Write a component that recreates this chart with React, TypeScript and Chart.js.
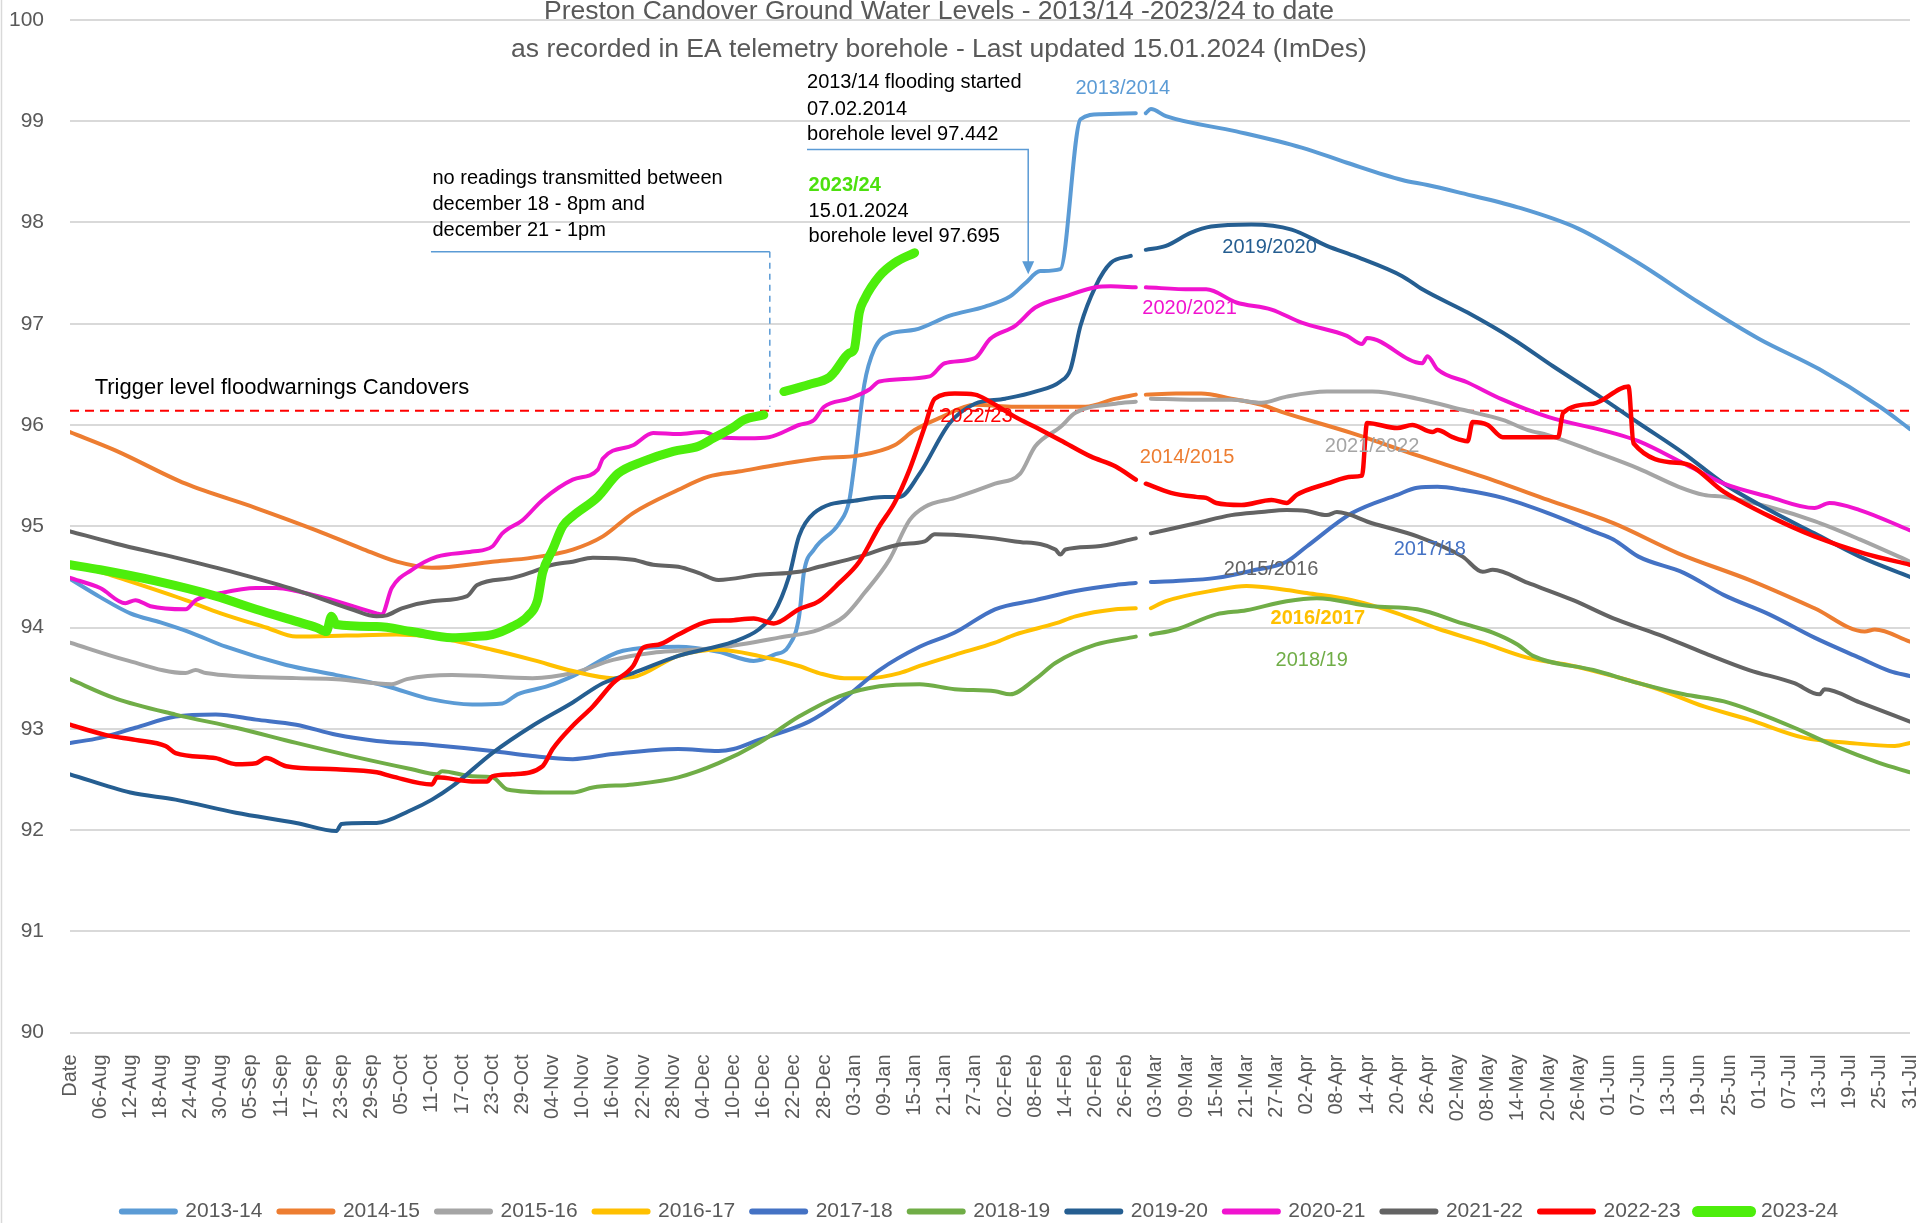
import React, { useEffect, useRef } from "react";
import { Chart, registerables } from "chart.js";

Chart.register(...registerables);

// ---------- tick labels ----------
const X_TICK_LABELS = [
  "Date", "06-Aug", "12-Aug", "18-Aug", "24-Aug", "30-Aug", "05-Sep", "11-Sep", "17-Sep", "23-Sep", "29-Sep",
  "05-Oct", "11-Oct", "17-Oct", "23-Oct", "29-Oct", "04-Nov", "10-Nov", "16-Nov", "22-Nov", "28-Nov",
  "04-Dec", "10-Dec", "16-Dec", "22-Dec", "28-Dec", "03-Jan", "09-Jan", "15-Jan", "21-Jan", "27-Jan",
  "02-Feb", "08-Feb", "14-Feb", "20-Feb", "26-Feb", "03-Mar", "09-Mar", "15-Mar", "21-Mar", "27-Mar",
  "02-Apr", "08-Apr", "14-Apr", "20-Apr", "26-Apr", "02-May", "08-May", "14-May", "20-May", "26-May",
  "01-Jun", "07-Jun", "13-Jun", "19-Jun", "25-Jun", "01-Jul", "07-Jul", "13-Jul", "19-Jul", "25-Jul", "31-Jul",
];
const Y_MIN = 90;
const Y_MAX = 100;
const DAY_MAX = 366;
const TRIGGER_LEVEL = 96.14;

// ---------- series: [day index since "Date", level] ----------
const S2013_14 = [[0,94.48],[6,94.3],[12,94.14],[18,94.05],[24,93.95],[31,93.81],[43,93.63],[53,93.53],[63,93.42],[72,93.29],[80,93.24],[86,93.25],[89,93.34],[95,93.42],[100,93.52],[110,93.77],[121,93.81],[129,93.76],[136,93.67],[140,93.73],[143,93.82],[145,94.1],[146,94.55],[148,94.77],[153,95.03],[155,95.25],[156,95.6],[158,96.4],[160,96.75],[163,96.9],[168,96.94],[175,97.08],[182,97.17],[187,97.27],[190,97.4],[193,97.52],[197,97.54],[201,99.02],[205,99.07],[212,99.08],[213,null],[214,99.08],[215,99.12],[218,99.05],[232,98.9],[245,98.74],[254,98.59],[265,98.42],[270,98.37],[276,98.3],[288,98.15],[300,97.94],[312,97.6],[324,97.21],[336,96.85],[348,96.55],[360,96.18],[366,95.96]];
const S2014_15 = [[0,95.93],[9,95.75],[23,95.42],[37,95.18],[49,94.96],[58,94.78],[65,94.65],[72,94.59],[84,94.65],[92,94.69],[100,94.77],[106,94.9],[112,95.13],[121,95.36],[127,95.49],[133,95.54],[141,95.61],[149,95.67],[157,95.7],[164,95.8],[168,95.95],[173,96.07],[180,96.2],[188,96.18],[196,96.18],[202,96.18],[208,96.26],[212,96.3],[213,null],[214,96.3],[220,96.31],[225,96.31],[231,96.26],[237,96.2],[241,96.13],[255,95.92],[268,95.7],[281,95.49],[294,95.26],[307,95.03],[320,94.73],[334,94.47],[347,94.19],[357,93.96],[359,93.98],[366,93.86]];
const S2015_16 = [[0,93.85],[11,93.68],[23,93.55],[25,93.58],[27,93.55],[45,93.5],[53,93.49],[64,93.44],[67,93.49],[76,93.53],[92,93.5],[100,93.55],[108,93.68],[116,93.75],[121,93.77],[129,93.8],[141,93.9],[149,93.98],[154,94.11],[158,94.34],[163,94.67],[167,95.06],[170,95.19],[176,95.28],[184,95.42],[189,95.52],[192,95.79],[197,95.98],[200,96.12],[208,96.21],[212,96.23],[213,null],[215,96.26],[223,96.25],[231,96.25],[237,96.22],[242,96.28],[250,96.33],[259,96.33],[268,96.26],[277,96.15],[285,96.05],[290,95.95],[294,95.9],[303,95.74],[312,95.57],[320,95.39],[325,95.31],[329,95.29],[338,95.19],[347,95.05],[356,94.87],[366,94.65]];
const S2016_17 = [[0,94.62],[6,94.55],[11,94.47],[23,94.27],[30,94.14],[39,94.0],[45,93.91],[55,93.92],[65,93.93],[73,93.9],[84,93.78],[92,93.68],[100,93.57],[108,93.5],[112,93.51],[121,93.72],[129,93.78],[137,93.72],[145,93.62],[149,93.55],[154,93.5],[159,93.5],[165,93.55],[169,93.62],[176,93.73],[184,93.85],[188,93.93],[196,94.04],[200,94.11],[208,94.18],[212,94.19],[213,null],[215,94.19],[218,94.26],[228,94.37],[234,94.41],[242,94.37],[246,94.34],[255,94.27],[264,94.14],[272,93.99],[281,93.85],[290,93.7],[299,93.62],[307,93.52],[316,93.39],[325,93.22],[334,93.09],[345,92.91],[354,92.86],[363,92.83],[366,92.86]];
const S2017_18 = [[0,92.86],[6,92.91],[13,93.01],[21,93.12],[29,93.14],[37,93.09],[45,93.04],[53,92.94],[61,92.88],[72,92.84],[84,92.78],[92,92.73],[100,92.7],[108,92.75],[121,92.8],[129,92.78],[132,92.8],[137,92.89],[147,93.07],[153,93.26],[161,93.58],[169,93.81],[176,93.95],[184,94.18],[192,94.27],[200,94.36],[208,94.42],[212,94.44],[213,null],[215,94.45],[220,94.46],[228,94.49],[235,94.56],[242,94.65],[246,94.8],[255,95.13],[264,95.31],[268,95.38],[272,95.39],[277,95.36],[285,95.28],[294,95.13],[303,94.95],[307,94.87],[312,94.7],[321,94.54],[329,94.32],[338,94.13],[347,93.9],[356,93.7],[362,93.57],[366,93.52]];
const S2018_19 = [[0,93.49],[9,93.3],[21,93.14],[33,93.01],[45,92.86],[56,92.73],[68,92.6],[73,92.55],[74,92.58],[80,92.53],[84,92.52],[87,92.4],[96,92.37],[100,92.37],[104,92.42],[112,92.45],[121,92.52],[129,92.66],[137,92.86],[145,93.12],[153,93.32],[161,93.42],[169,93.44],[176,93.39],[184,93.37],[187,93.34],[192,93.49],[196,93.65],[204,93.83],[212,93.91],[213,null],[215,93.93],[220,93.98],[228,94.13],[234,94.17],[242,94.26],[248,94.29],[259,94.21],[268,94.18],[277,94.04],[283,93.95],[288,93.83],[291,93.72],[303,93.58],[312,93.45],[321,93.34],[329,93.27],[335,93.17],[343,93.01],[351,92.83],[360,92.66],[366,92.57]];
const S2019_20 = [[0,92.55],[12,92.37],[21,92.3],[33,92.17],[45,92.07],[53,91.99],[54,92.06],[61,92.07],[68,92.2],[72,92.3],[76,92.43],[84,92.76],[92,93.03],[100,93.26],[106,93.45],[112,93.55],[121,93.72],[132,93.86],[137,93.98],[140,94.14],[143,94.5],[145,94.9],[148,95.13],[157,95.26],[162,95.29],[165,95.29],[169,95.52],[175,96.02],[180,96.21],[186,96.26],[192,96.33],[197,96.43],[199,96.55],[201,96.98],[204,97.37],[207,97.6],[211,97.67],[213,null],[214,97.73],[218,97.77],[223,97.9],[227,97.96],[235,97.98],[243,97.93],[250,97.77],[256,97.66],[265,97.47],[269,97.34],[278,97.11],[287,96.85],[295,96.58],[304,96.29],[312,96.02],[321,95.72],[329,95.42],[338,95.16],[347,94.93],[356,94.7],[366,94.5]];
const S2020_21 = [[0,94.49],[6,94.39],[11,94.24],[13,94.27],[16,94.21],[23,94.18],[25,94.27],[30,94.34],[37,94.39],[41,94.39],[45,94.36],[53,94.26],[61,94.14],[62,94.13],[64,94.39],[68,94.57],[73,94.7],[80,94.75],[84,94.8],[86,94.93],[90,95.06],[94,95.26],[100,95.46],[105,95.56],[106,95.67],[112,95.8],[116,95.92],[121,95.91],[126,95.93],[129,95.88],[135,95.87],[139,95.88],[145,96.0],[148,96.05],[150,96.18],[155,96.26],[159,96.35],[161,96.43],[171,96.48],[174,96.61],[180,96.66],[183,96.85],[188,96.98],[192,97.16],[198,97.27],[204,97.36],[207,97.37],[212,97.36],[213,null],[214,97.36],[223,97.34],[226,97.34],[232,97.21],[239,97.14],[245,97.01],[254,96.88],[257,96.8],[258,96.86],[269,96.61],[270,96.68],[272,96.55],[278,96.42],[285,96.25],[294,96.08],[307,95.92],[312,95.84],[321,95.62],[323,95.57],[329,95.42],[338,95.29],[347,95.18],[350,95.23],[356,95.16],[366,94.96]];
const S2021_22 = [[0,94.95],[9,94.83],[21,94.69],[33,94.54],[45,94.37],[56,94.18],[61,94.11],[63,94.12],[66,94.19],[72,94.26],[79,94.31],[81,94.42],[88,94.49],[92,94.55],[96,94.62],[100,94.65],[104,94.69],[112,94.67],[116,94.62],[121,94.6],[125,94.54],[129,94.47],[137,94.52],[145,94.55],[149,94.6],[157,94.7],[165,94.82],[170,94.85],[172,94.92],[180,94.9],[188,94.85],[196,94.77],[197,94.72],[198,94.77],[204,94.8],[212,94.88],[213,null],[215,94.93],[224,95.03],[231,95.11],[237,95.14],[242,95.16],[246,95.15],[250,95.11],[252,95.14],[259,95.03],[268,94.9],[277,94.7],[281,94.55],[283,94.57],[290,94.44],[299,94.27],[307,94.09],[316,93.93],[325,93.75],[334,93.58],[343,93.45],[348,93.34],[349,93.39],[356,93.26],[366,93.07]];
const S2022_23 = [[0,93.04],[7,92.94],[13,92.89],[19,92.83],[21,92.76],[29,92.71],[33,92.65],[37,92.66],[39,92.71],[43,92.63],[53,92.6],[61,92.57],[64,92.53],[72,92.45],[73,92.52],[80,92.48],[83,92.48],[84,92.53],[88,92.55],[94,92.63],[96,92.8],[100,93.03],[104,93.22],[108,93.45],[112,93.62],[114,93.8],[117,93.83],[121,93.93],[127,94.06],[131,94.07],[136,94.09],[140,94.04],[145,94.18],[149,94.26],[153,94.44],[157,94.65],[161,95.0],[164,95.23],[167,95.56],[170,95.98],[172,96.26],[176,96.31],[180,96.3],[183,96.23],[188,96.08],[192,95.98],[197,95.85],[203,95.69],[208,95.59],[212,95.46],[213,null],[214,95.42],[219,95.33],[224,95.29],[226,95.28],[228,95.23],[233,95.21],[239,95.26],[242,95.23],[244,95.31],[250,95.42],[255,95.49],[257,95.5],[258,96.02],[264,95.97],[267,96.0],[271,95.93],[272,95.95],[275,95.88],[278,95.84],[279,96.03],[282,96.0],[285,95.88],[296,95.88],[297,96.12],[303,96.21],[310,96.38],[311,95.82],[321,95.62],[329,95.34],[338,95.1],[347,94.9],[357,94.73],[366,94.62]];
const S2023_24 = [[0,94.62],[6,94.57],[17,94.46],[29,94.31],[37,94.18],[45,94.06],[49,94.0],[51,93.96],[52,94.11],[53,94.03],[61,94.01],[68,93.96],[76,93.9],[80,93.91],[84,93.93],[88,94.01],[91,94.11],[93,94.27],[94,94.54],[96,94.77],[98,95.0],[100,95.1],[105,95.29],[109,95.52],[114,95.64],[120,95.74],[125,95.79],[128,95.87],[132,95.98],[134,96.05],[138,96.1],[140,null],[142,96.33],[147,96.4],[151,96.47],[152,96.52],[155,96.71],[156,96.75],[157,97.11],[158,97.24],[161,97.47],[164,97.6],[168,97.7]];

const SERIES_NAMES = ["2013-14", "2014-15", "2015-16", "2016-17", "2017-18", "2018-19", "2019-20", "2020-21", "2021-22", "2022-23", "2023-24"];
const SERIES_DATA = [S2013_14, S2014_15, S2015_16, S2016_17, S2017_18, S2018_19, S2019_20, S2020_21, S2021_22, S2022_23, S2023_24];

// ---------- styles ----------
const COLORS = ["#5B9BD5", "#ED7D31", "#A5A5A5", "#FFC000", "#4472C4", "#70AD47", "#255E91", "#F013CF", "#636363", "#FF0000", "#4DEE0C"];
const WIDTHS = [4, 4, 4, 4, 4, 4, 4, 4, 4, 4.5, 9];
const FONT = "'Liberation Sans', Arial, sans-serif";
const TEXT_GREY = "#595959";

// on-chart labels: [text, day, level, color, bold]
const SERIES_LABELS: [string, number, number, string, boolean][] = [
  ["2013/2014", 200, 99.32, "#5B9BD5", false],
  ["2019/2020", 229.2, 97.75, "#255E91", false],
  ["2020/2021", 213.3, 97.15, "#F013CF", false],
  ["2022/23", 173.1, 96.08, "#FF0000", false],
  ["2014/2015", 212.8, 95.68, "#ED7D31", false],
  ["2021/2022", 249.6, 95.79, "#A5A5A5", false],
  ["2015/2016", 229.5, 94.57, "#636363", false],
  ["2017/18", 263.3, 94.77, "#4472C4", false],
  ["2016/2017", 238.8, 94.09, "#FFC000", true],
  ["2018/19", 239.8, 93.67, "#70AD47", false],
];

const annotationPlugin = {
  id: "annotations",
  afterLayout(chart: any) {
    const l = chart.legend;
    if (l) {
      l.left += 25;
      l.right += 25;
    }
  },
  beforeDatasetsDraw(chart: any) {
    const { ctx, scales } = chart;
    const x = scales.x, y = scales.y;
    ctx.save();
    ctx.strokeStyle = "#FF0000";
    ctx.lineWidth = 2;
    ctx.setLineDash([9, 6]);
    const yy = y.getPixelForValue(TRIGGER_LEVEL);
    ctx.beginPath();
    ctx.moveTo(x.getPixelForValue(0), yy);
    ctx.lineTo(x.getPixelForValue(DAY_MAX) + 5, yy);
    ctx.stroke();
    ctx.restore();
  },
  afterDatasetsDraw(chart: any) {
    const { ctx, scales } = chart;
    const x = scales.x, y = scales.y;
    const px = (d: number) => x.getPixelForValue(d);
    const py = (v: number) => y.getPixelForValue(v);
    ctx.save();
    ctx.textBaseline = "middle";
    ctx.textAlign = "left";

    for (const [t, d, v, c, b] of SERIES_LABELS) {
      ctx.font = `${b ? "bold " : ""}20px ${FONT}`;
      ctx.fillStyle = c;
      ctx.fillText(t, px(d), py(v));
    }

    ctx.fillStyle = "#000000";
    ctx.font = `22px ${FONT}`;
    ctx.fillText("Trigger level floodwarnings Candovers", px(4.9), py(96.37));
    ctx.font = `20px ${FONT}`;
    ctx.fillText("no readings transmitted between", px(72.1), py(98.43));
    ctx.fillText("december 18 - 8pm and", px(72.1), py(98.18));
    ctx.fillText("december 21 - 1pm", px(72.1), py(97.92));
    ctx.fillText("2013/14 flooding started", px(146.6), py(99.38));
    ctx.fillText("07.02.2014", px(146.6), py(99.12));
    ctx.fillText("borehole level 97.442", px(146.6), py(98.87));
    ctx.fillText("15.01.2024", px(146.9), py(98.11));
    ctx.fillText("borehole level 97.695", px(146.9), py(97.86));
    ctx.font = `bold 20px ${FONT}`;
    ctx.fillStyle = "#4DE00E";
    ctx.fillText("2023/24", px(146.9), py(98.37));

    // callout 1 (no readings)
    ctx.strokeStyle = "#5B9BD5";
    ctx.lineWidth = 1.5;
    ctx.beginPath();
    ctx.moveTo(px(71.8), py(97.71));
    ctx.lineTo(px(139.2), py(97.71));
    ctx.stroke();
    ctx.setLineDash([6, 5]);
    ctx.beginPath();
    ctx.moveTo(px(139.2), py(97.71));
    ctx.lineTo(px(139.2), py(96.18));
    ctx.stroke();
    ctx.setLineDash([]);

    // callout 2 (flooding started) with arrow
    const ax = px(190.6);
    ctx.beginPath();
    ctx.moveTo(px(146.6), py(98.72));
    ctx.lineTo(ax, py(98.72));
    ctx.lineTo(ax, py(97.49) - 10);
    ctx.stroke();
    ctx.fillStyle = "#5B9BD5";
    ctx.beginPath();
    ctx.moveTo(ax, py(97.49));
    ctx.lineTo(ax - 6, py(97.49) - 13);
    ctx.lineTo(ax + 6, py(97.49) - 13);
    ctx.closePath();
    ctx.fill();
    ctx.restore();
  },
  afterDraw(chart: any) {
    const { ctx } = chart;
    ctx.save();
    ctx.fillStyle = TEXT_GREY;
    ctx.textAlign = "center";
    ctx.textBaseline = "middle";
    ctx.font = `26.5px ${FONT}`;
    ctx.fillText("Preston Candover Ground Water Levels - 2013/14 -2023/24 to date", 939, 12);
    ctx.fillText("as recorded in EA telemetry borehole - Last updated 15.01.2024 (ImDes)", 939, 50);
    ctx.strokeStyle = "#D9D9D9";
    ctx.lineWidth = 1.5;
    ctx.beginPath();
    ctx.moveTo(1.5, 0);
    ctx.lineTo(1.5, 1223);
    ctx.stroke();
    ctx.restore();
  },
};

export default function App() {
  const canvasRef = useRef<HTMLCanvasElement | null>(null);

  useEffect(() => {
    const canvas = canvasRef.current;
    if (!canvas) return;
    const datasets = SERIES_NAMES.map((name, i) => ({
      label: name,
      data: SERIES_DATA[i].map(([d, v]) => ({ x: d as number, y: v as number | null })),
      borderColor: COLORS[i],
      backgroundColor: COLORS[i],
      borderWidth: WIDTHS[i],
      pointRadius: 0,
      pointHoverRadius: 0,
      cubicInterpolationMode: "monotone" as const,
      spanGaps: false,
      borderCapStyle: "round" as const,
      borderJoinStyle: "round" as const,
      order: SERIES_NAMES.length - i,
    }));

    const chart = new Chart(canvas, {
      type: "line",
      data: { datasets },
      options: {
        responsive: false,
        animation: false,
        events: [],
        devicePixelRatio: 1,
        layout: { padding: { top: 20, right: 22, left: 0, bottom: 0 } },
        scales: {
          x: {
            type: "linear",
            min: 0,
            max: DAY_MAX,
            grid: { display: false },
            border: { display: false },
            afterFit: (s: any) => { s.height = 151.5; s.paddingLeft = 0; s.paddingRight = 0; },
            ticks: {
              stepSize: 6,
              autoSkip: false,
              minRotation: 90,
              maxRotation: 90,
              padding: 14,
              color: TEXT_GREY,
              font: { family: FONT, size: 20 },
              callback: (value: any) => {
                const i = Math.round(Number(value) / 6);
                return X_TICK_LABELS[i] ?? "";
              },
            },
          },
          y: {
            min: Y_MIN,
            max: Y_MAX,
            grid: { color: "#D9D9D9", lineWidth: 2, drawTicks: false },
            border: { display: false },
            afterFit: (s: any) => { s.width = 70; s.paddingTop = 0; s.paddingBottom = 0; },
            ticks: {
              stepSize: 1,
              padding: 26,
              color: TEXT_GREY,
              font: { family: FONT, size: 21 },
            },
          },
        },
        plugins: {
          tooltip: { enabled: false },
          title: { display: false },
          legend: {
            display: true,
            position: "bottom",
            labels: {
              usePointStyle: true,
              pointStyle: "line",
              pointStyleWidth: 53,
              padding: 17,
              color: TEXT_GREY,
              font: { family: FONT, size: 21 },
              sort: (a: any, b: any) => a.datasetIndex - b.datasetIndex,
              generateLabels: (c: any) => {
                const items = (Chart as any).defaults.plugins.legend.labels.generateLabels(c);
                return items.map((it: any) => ({
                  ...it,
                  lineWidth: it.datasetIndex === 10 ? 11 : 6,
                  lineCap: "round",
                }));
              },
            },
          },
        },
      },
      plugins: [annotationPlugin],
    });
    return () => chart.destroy();
  }, []);

  return (
    <div style={{ position: "fixed", left: 0, top: 0, width: 1932, height: 1232, background: "#ffffff" }}>
      <canvas ref={canvasRef} width={1932} height={1232} style={{ display: "block" }} />
    </div>
  );
}
